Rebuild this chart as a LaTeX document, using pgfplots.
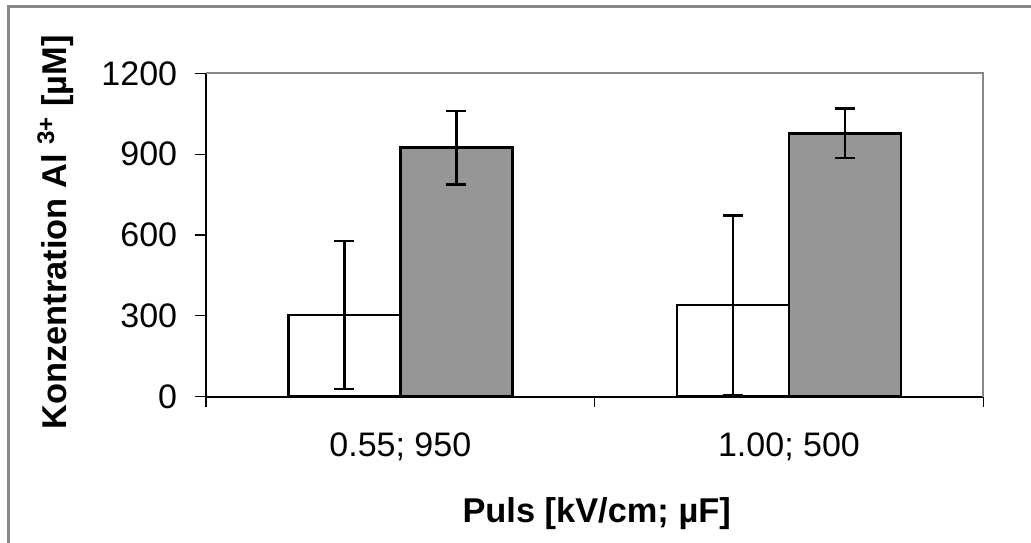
\documentclass[border=0pt]{standalone}
\usepackage{fontspec}
\setmainfont{Liberation Sans}
\usepackage{pgfplots}
\pgfplotsset{compat=1.18}
\definecolor{bargray}{RGB}{150,150,150}
\definecolor{framegray}{RGB}{136,136,136}
\begin{document}
\begin{tikzpicture}
\useasboundingbox (0,0) rectangle (515.5pt,271pt);
\draw[framegray, line width=1.35pt] (4.35pt,-5pt) -- (4.35pt,267.65pt) -- (520pt,267.65pt);
\begin{axis}[
  at={(103pt,72.65pt)}, anchor=south west,
  scale only axis, width=388.65pt, height=161.7pt,
  xmin=-0.5, xmax=1.5, ymin=0, ymax=1200,
  ybar=0pt, bar width=56pt,
  axis x line*=bottom, axis y line*=left,
  axis line style={black, line width=0.8pt, -},
  xtick={-0.5,0.5,1.5},
  xticklabels={{0.55; 950},{1.00; 500}},
  x tick label as interval,
  ytick={0,300,600,900,1200},
  tick align=outside,
  major tick length=5.25pt,
  tick style={black, line width=0.6pt},
  /pgf/number format/assume math mode=true,
  /pgf/number format/set thousands separator={},
  ticklabel style={font=\fontsize{17pt}{20pt}\selectfont},
  yticklabel style={anchor=east, inner sep=0pt, xshift=-9pt},
  xticklabel style={anchor=base, inner sep=0pt, yshift=-24.5pt},
  clip=false,
  xlabel={\textbf{Puls [kV/cm; µF]}},
  ylabel={\textbf{Konzentration Al \textsuperscript{3+} [µM]}},
  label style={font=\fontsize{17.2pt}{20pt}\selectfont},
  xlabel style={at={(axis description cs:0.5026,-0.3905)}, anchor=base},
  ylabel style={at={(axis description cs:-0.1792,0.508)}, anchor=base},
  error bars/y dir=both, error bars/y explicit,
  error bars/error bar style={black, line width=1.2pt},
  error bars/error mark options={rotate=90, mark size=5pt, line width=1.2pt, black},
]
\draw[framegray, line width=1pt] (rel axis cs:0,1) -- (rel axis cs:1,1) -- (rel axis cs:1,0);
\addplot[draw=black, line width=1.4pt, fill=white] coordinates {(0,303) +- (0,275) (1,340) +- (0,333)};
\addplot[draw=black, line width=1.4pt, fill=bargray] coordinates {(0,924) +- (0,137) (1,977) +- (0,92)};
\end{axis}
\end{tikzpicture}
\end{document}
